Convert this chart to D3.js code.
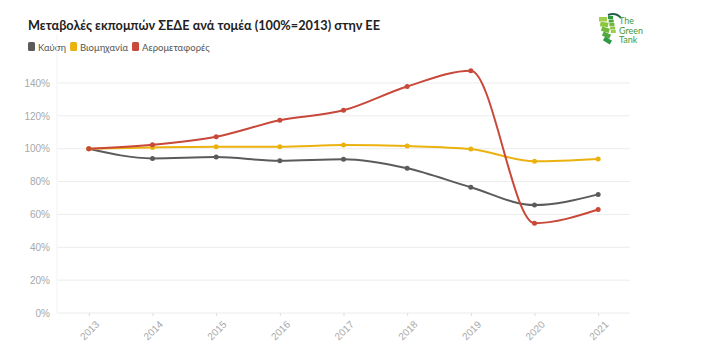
<!DOCTYPE html>
<html lang="el">
<head>
    <meta charset="UTF-8">
    <title>Μεταβολές εκπομπών ΣΕΔΕ</title>
    <script src="https://cdn.jsdelivr.net/npm/d3@7"></script>
    <style>
        body { margin: 0; background: #fff; font-family: Lato, "Noto Sans", sans-serif; }
        .grid line { stroke: #ececec; }
        .tick text { fill: #a8a8a8; font-size: 10px; }
    </style>
</head>
<body>
    <div id="chart-space"></div>

    <script>
        // data
        var years = ["2013", "2014", "2015", "2016", "2017", "2018", "2019", "2020", "2021"];
        var kafsi = [100, 94.1, 94.9, 92.6, 93.6, 88.1, 76.5, 65.7, 72.2];
        var viomixania = [100, 100.8, 101.2, 101.2, 102.2, 101.6, 99.8, 92.4, 93.8];
        var aerometafores = [100, 102.4, 107.3, 117.3, 123.4, 137.9, 147.5, 54.7, 63.0];
        var yTicks = [0, 20, 40, 60, 80, 100, 120, 140];

        var series = [
            {name: "Καύση", values: kafsi, color: "#5b5b5b"},
            {name: "Βιομηχανία", values: viomixania, color: "#ebb10d"},
            {name: "Αερομεταφορές", values: aerometafores, color: "#c8483a"}
        ];

        var width = 704;
        var height = 350;
        var margin = {top: 60, right: 74, bottom: 37, left: 57};

        var svg = d3.select("#chart-space")
            .append("svg")
            .attr("width", width)
            .attr("height", height);

        // title
        svg.append("text")
            .attr("x", 28)
            .attr("y", 30)
            .attr("font-size", 13.5)
            .attr("font-weight", "bold")
            .attr("fill", "#222")
            .attr("textLength", 352)
            .attr("lengthAdjust", "spacingAndGlyphs")
            .text("Μεταβολές εκπομπών ΣΕΔΕ ανά τομέα (100%=2013) στην ΕΕ");

        // legend
        var lx = 28;
        series.forEach(function(s) {
            svg.append("rect")
                .attr("x", lx).attr("y", 42)
                .attr("width", 7).attr("height", 9)
                .attr("rx", 1.5)
                .attr("fill", s.color);
            var t = svg.append("text")
                .attr("x", lx + 10).attr("y", 50.5)
                .attr("font-size", 9.5)
                .attr("fill", "#555")
                .text(s.name);
            lx += 10 + t.node().getComputedTextLength() + 4;
        });

        // logo (rough)
        var logo = svg.append("g").attr("transform", "translate(598,13)");
        var greens = ["#9fcf4a", "#8cc63f", "#6fb83c", "#4ea83a", "#2f9a44"];
        for (var i = 0; i < 5; i++) {
            logo.append("rect")
                .attr("x", 1 + i * 1.3).attr("y", 4 + i * 5.2)
                .attr("width", 8).attr("height", 4.5)
                .attr("transform", "rotate(" + (i * 8) + "," + (5 + i) + "," + (6 + i * 5) + ")")
                .attr("fill", greens[i]);
            logo.append("rect")
                .attr("x", 10 + i * 0.7).attr("y", 3 + i * 3.5)
                .attr("width", 5).attr("height", 3)
                .attr("fill", greens[4 - i]);
        }
        logo.append("path")
            .attr("d", "M10,2 Q18,-1 23,5")
            .attr("fill", "none").attr("stroke", "#1f5f4a").attr("stroke-width", 2);
        ["The", "Green", "Tank"].forEach(function(w, j) {
            logo.append("text")
                .attr("x", 21).attr("y", 11 + j * 9.5)
                .attr("font-size", 9)
                .attr("fill", "#3f9a3c")
                .text(w);
        });

        var chartWidth = width - margin.left - margin.right;
        var chartHeight = height - margin.top - margin.bottom;

        var g = svg.append("g")
            .attr("transform", "translate(" + margin.left + "," + margin.top + ")");

        var xScale = d3.scalePoint()
            .domain(years)
            .range([0, chartWidth])
            .padding(0.5);

        var yScale = d3.scaleLinear()
            .domain([0, 154])
            .range([chartHeight, 0]);

        // gridlines
        g.append("g")
            .attr("class", "grid")
            .selectAll("line")
            .data(yTicks)
            .join("line")
            .attr("x1", 0)
            .attr("x2", chartWidth)
            .attr("y1", function(d) { return yScale(d); })
            .attr("y2", function(d) { return yScale(d); });

        g.append("line")
            .attr("x1", 0).attr("x2", 0)
            .attr("y1", -25).attr("y2", chartHeight)
            .attr("stroke", "#f3f3f3");

        var yAxis = g.append("g")
            .call(d3.axisLeft(yScale).tickValues(yTicks).tickSize(0).tickPadding(7)
                .tickFormat(function(d) { return d + "%"; }));
        yAxis.select(".domain").remove();

        var xAxis = g.append("g")
            .attr("transform", "translate(0," + chartHeight + ")")
            .call(d3.axisBottom(xScale).tickSize(3).tickPadding(6));
        xAxis.select(".domain").remove();
        xAxis.selectAll(".tick line").attr("stroke", "#ddd");
        xAxis.selectAll(".tick text")
            .attr("text-anchor", "end")
            .attr("dx", "-0.1em")
            .attr("dy", "0.7em")
            .attr("transform", "rotate(-45)");

        var line = d3.line()
            .x(function(d, i) { return xScale(years[i]); })
            .y(function(d) { return yScale(d); })
            .curve(d3.curveMonotoneX);

        series.forEach(function(s) {
            g.append("path")
                .datum(s.values)
                .attr("d", line)
                .attr("fill", "none")
                .attr("stroke", s.color)
                .attr("stroke-width", 2);
            g.selectAll(null)
                .data(s.values)
                .join("circle")
                .attr("cx", function(d, i) { return xScale(years[i]); })
                .attr("cy", function(d) { return yScale(d); })
                .attr("r", 2.5)
                .attr("fill", s.color);
        });
    </script>
</body>
</html>
